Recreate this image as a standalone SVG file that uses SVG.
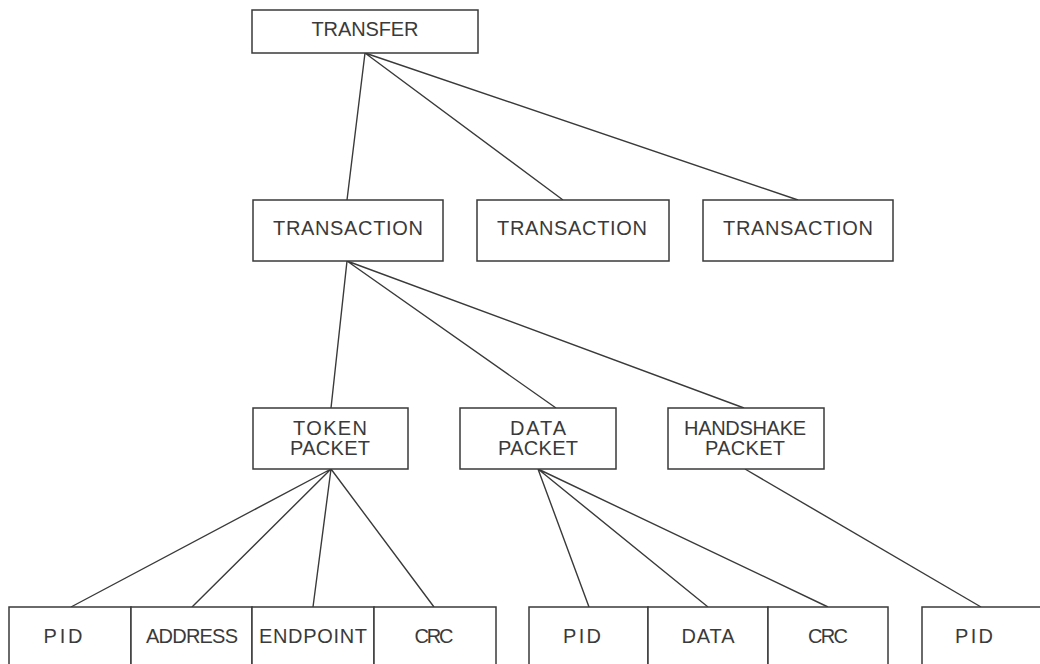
<svg xmlns="http://www.w3.org/2000/svg" width="1040" height="664" viewBox="0 0 1040 664">
  <style>
    .box { fill: #ffffff; stroke: #3a3a3a; stroke-width: 1.5; }
    .lbl { font-family: "Liberation Sans", Arial, sans-serif; font-size: 20px; fill: #3a3a3a; text-anchor: middle; }
    .wire { stroke: #3a3a3a; stroke-width: 1.4; fill: none; }
  </style>
  <rect width="1040" height="664" fill="#ffffff"/>

  <!-- tree connectors -->
  <g id="connectors" class="wire">
    <path d="M365 53 L347 200 M365 53 L563 200 M365 53 L798 200"/>
    <path d="M347 261 L331 408 M347 261 L556 408 M347 261 L744 408"/>
    <path d="M331 469 L71 607 M331 469 L192 607 M331 469 L313 607 M331 469 L434 607"/>
    <path d="M538 469 L589 607 M538 469 L708 607 M538 469 L828 607"/>
    <path d="M745 469 L981 607"/>
  </g>

  <!-- level 1 -->
  <g id="transfer">
    <rect class="box" x="252" y="10" width="226" height="43"/>
    <text class="lbl" x="365" y="36" textLength="107" lengthAdjust="spacing">TRANSFER</text>
  </g>

  <!-- level 2 -->
  <g id="transaction-1">
    <rect class="box" x="253" y="200" width="190" height="61"/>
    <text class="lbl" x="348" y="235" textLength="150" lengthAdjust="spacing">TRANSACTION</text>
  </g>
  <g id="transaction-2">
    <rect class="box" x="477" y="200" width="192" height="61"/>
    <text class="lbl" x="572" y="235" textLength="150" lengthAdjust="spacing">TRANSACTION</text>
  </g>
  <g id="transaction-3">
    <rect class="box" x="703" y="200" width="190" height="61"/>
    <text class="lbl" x="798" y="235" textLength="150" lengthAdjust="spacing">TRANSACTION</text>
  </g>

  <!-- level 3 -->
  <g id="token-packet">
    <rect class="box" x="253" y="408" width="155" height="61"/>
    <text class="lbl" x="330" y="435" textLength="74" lengthAdjust="spacing">TOKEN</text>
    <text class="lbl" x="330" y="455" textLength="80" lengthAdjust="spacing">PACKET</text>
  </g>
  <g id="data-packet">
    <rect class="box" x="460" y="408" width="156" height="61"/>
    <text class="lbl" x="538" y="435" textLength="56" lengthAdjust="spacing">DATA</text>
    <text class="lbl" x="538" y="455" textLength="80" lengthAdjust="spacing">PACKET</text>
  </g>
  <g id="handshake-packet">
    <rect class="box" x="668" y="408" width="156" height="61"/>
    <text class="lbl" x="745" y="435" textLength="122" lengthAdjust="spacing">HANDSHAKE</text>
    <text class="lbl" x="745" y="455" textLength="80" lengthAdjust="spacing">PACKET</text>
  </g>

  <!-- level 4: token packet fields -->
  <g id="token-pid">
    <rect class="box" x="9" y="607" width="122" height="80"/>
    <text class="lbl" x="63" y="643" textLength="39" lengthAdjust="spacing">PID</text>
  </g>
  <g id="token-address">
    <rect class="box" x="131" y="607" width="121" height="80"/>
    <text class="lbl" x="192" y="643" textLength="92" lengthAdjust="spacing">ADDRESS</text>
  </g>
  <g id="token-endpoint">
    <rect class="box" x="252" y="607" width="122" height="80"/>
    <text class="lbl" x="313" y="643" textLength="108" lengthAdjust="spacing">ENDPOINT</text>
  </g>
  <g id="token-crc">
    <rect class="box" x="374" y="607" width="122" height="80"/>
    <text class="lbl" x="434" y="643" textLength="39" lengthAdjust="spacing">CRC</text>
  </g>

  <!-- level 4: data packet fields -->
  <g id="data-pid">
    <rect class="box" x="529" y="607" width="119" height="80"/>
    <text class="lbl" x="582" y="643" textLength="38" lengthAdjust="spacing">PID</text>
  </g>
  <g id="data-data">
    <rect class="box" x="648" y="607" width="120" height="80"/>
    <text class="lbl" x="708" y="643" textLength="53" lengthAdjust="spacing">DATA</text>
  </g>
  <g id="data-crc">
    <rect class="box" x="768" y="607" width="120" height="80"/>
    <text class="lbl" x="828" y="643" textLength="40" lengthAdjust="spacing">CRC</text>
  </g>

  <!-- level 4: handshake packet field -->
  <g id="handshake-pid">
    <rect class="box" x="922" y="607" width="122" height="80"/>
    <text class="lbl" x="974" y="643" textLength="38" lengthAdjust="spacing">PID</text>
  </g>
</svg>
